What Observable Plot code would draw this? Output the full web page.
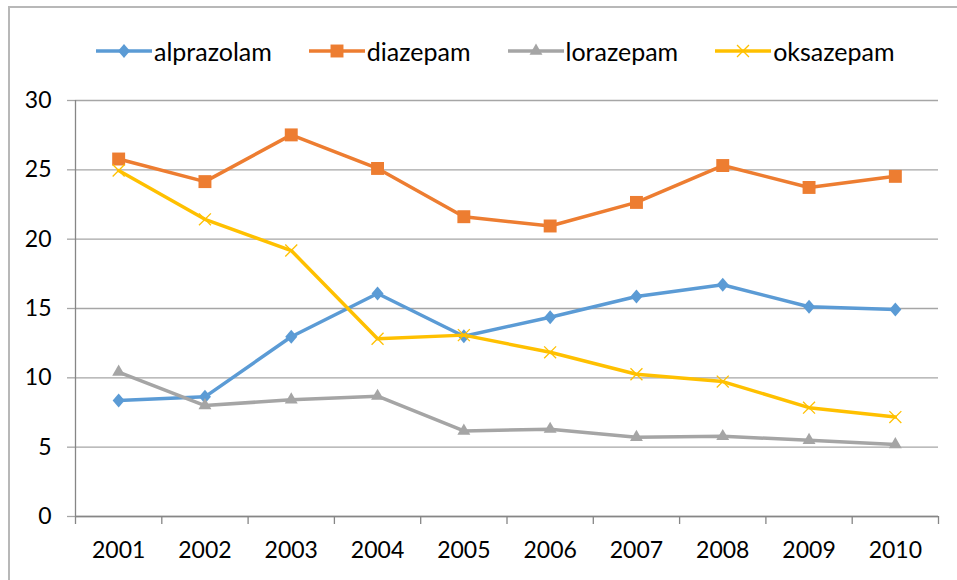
<!DOCTYPE html>
<html>
<head>
<meta charset="utf-8">
<script src="https://cdn.jsdelivr.net/npm/d3@7"></script>
<script src="https://cdn.jsdelivr.net/npm/@observablehq/plot@0.6"></script>
<style>
  body { margin: 0; background: #fff; font-family: Lato, "Liberation Sans", sans-serif; }
  #wrap { position: relative; width: 957px; height: 580px; overflow: hidden; }
  #frame { position: absolute; left: 8px; top: 6px; width: 1000px; height: 1000px;
           border-top: 2px solid #b8b8b8; border-left: 2px solid #b8b8b8; z-index: 0; }
  #legend { position: relative; z-index: 1; box-sizing: border-box; height: 80px; padding-top: 22px;
            padding-left: 96px; display: flex; gap: 37px; align-items: center; }
  #legend .item { display: flex; align-items: center; gap: 2px; font-size: 25px; color: #000; }
  #chart { position: relative; z-index: 1; }
</style>
</head>
<body>
<div id="wrap">
  <div id="frame"></div>
  <div id="legend"></div>
  <div id="chart"></div>
</div>
<script>
// ---- data ----
const years = ["2001", "2002", "2003", "2004", "2005", "2006", "2007", "2008", "2009", "2010"];
const seriesNames = ["alprazolam", "diazepam", "lorazepam", "oksazepam"];
const alprazolam = [8.36, 8.63, 12.96, 16.08, 13.0, 14.37, 15.86, 16.71, 15.13, 14.92];
const diazepam   = [25.78, 24.15, 27.52, 25.10, 21.62, 20.95, 22.65, 25.31, 23.73, 24.53];
const lorazepam  = [10.42, 8.0, 8.42, 8.68, 6.17, 6.30, 5.72, 5.78, 5.50, 5.19];
const oksazepam  = [24.95, 21.43, 19.18, 12.82, 13.08, 11.84, 10.26, 9.73, 7.85, 7.17];
const yTicks = [0, 5, 10, 15, 20, 25, 30];

const values = {alprazolam, diazepam, lorazepam, oksazepam};
const colors = {alprazolam: "#5b9bd5", diazepam: "#ed7d31", lorazepam: "#a5a5a5", oksazepam: "#ffc000"};

const diamondSym = {
  draw(ctx) { const w = 6, h = 7; ctx.moveTo(0, -h); ctx.lineTo(w, 0); ctx.lineTo(0, h); ctx.lineTo(-w, 0); ctx.closePath(); }
};
const markerStyle = {
  alprazolam: {symbol: diamondSym, r: 5, fill: colors.alprazolam, stroke: "none"},
  diazepam:   {symbol: "square", r: 7.3, fill: colors.diazepam, stroke: "none"},
  lorazepam:  {symbol: "triangle", r: 4.8, fill: colors.lorazepam, stroke: "none"},
  oksazepam:  {symbol: "times", r: 5.5, fill: "none", stroke: colors.oksazepam, strokeWidth: 1.3}
};

const rows = seriesNames.flatMap(name => values[name].map((v, i) => ({series: name, idx: i + 1, value: v})));
const boundaries = d3.range(0, years.length + 1).map(i => i + 0.5);

// ---- legend ----
const legend = d3.select("#legend");
const symPaths = {
  alprazolam: "M0,-7L6,0L0,7L-6,0Z",
  diazepam: d3.symbol(d3.symbolSquare, 7.3 * 7.3 * Math.PI)(),
  lorazepam: d3.symbol(d3.symbolTriangle, 4.8 * 4.8 * Math.PI)(),
  oksazepam: d3.symbol(d3.symbolTimes, 5.5 * 5.5 * Math.PI)()
};
for (const name of seriesNames) {
  const item = legend.append("div").attr("class", "item");
  const svg = item.append("svg").attr("width", 56).attr("height", 20);
  svg.append("line").attr("x1", 0).attr("x2", 56).attr("y1", 10).attr("y2", 10)
    .attr("stroke", colors[name]).attr("stroke-width", 3.5);
  const m = markerStyle[name];
  svg.append("path").attr("d", symPaths[name]).attr("transform", "translate(28,10)")
    .attr("fill", m.fill).attr("stroke", m.stroke).attr("stroke-width", m.strokeWidth || 0);
  item.append("span").text(name);
}

// ---- chart ----
const marks = [
  Plot.gridY(yTicks, {stroke: "#a6a6a6", strokeOpacity: 1, strokeWidth: 1.3}),
  Plot.axisY(yTicks, {tickSize: 8, tickPadding: 16, stroke: "#a6a6a6", strokeOpacity: 1, strokeWidth: 1.3,
                      fill: "#000", fontSize: 23, label: null}),
  Plot.ruleX([0.5], {stroke: "#868686", strokeWidth: 1.3}),
  Plot.ruleY([0], {stroke: "#868686", strokeWidth: 1.3}),
  Plot.axisX(boundaries, {tickSize: 8, tickFormat: () => "", stroke: "#868686", strokeOpacity: 1, strokeWidth: 1.3, label: null}),
  Plot.axisX(d3.range(1, years.length + 1), {tickSize: 0, tickPadding: 25, tickFormat: i => years[i - 1],
                      fill: "#000", fontSize: 23, label: null})
];
for (const name of seriesNames) {
  const data = rows.filter(d => d.series === name);
  marks.push(Plot.lineY(data, {x: "idx", y: "value", stroke: colors[name], strokeWidth: 3.5,
                               strokeLinejoin: "round", strokeLinecap: "round"}));
  const m = markerStyle[name];
  marks.push(Plot.dot(data, {x: "idx", y: "value", symbol: () => m.symbol, r: m.r, fill: m.fill,
                             stroke: m.stroke, strokeWidth: m.strokeWidth || 0}));
}

const chart = Plot.plot({
  width: 957,
  height: 500,
  marginLeft: 75,
  marginRight: 19,
  marginTop: 20,
  marginBottom: 64,
  style: {background: "none", fontFamily: "Lato, 'Liberation Sans', sans-serif", fontSize: "23px", overflow: "visible"},
  x: {type: "linear", domain: [0.5, years.length + 0.5], axis: null},
  y: {domain: [0, 30], axis: null},
  symbol: {type: "identity"},
  marks
});
document.getElementById("chart").appendChild(chart);
</script>
</body>
</html>
